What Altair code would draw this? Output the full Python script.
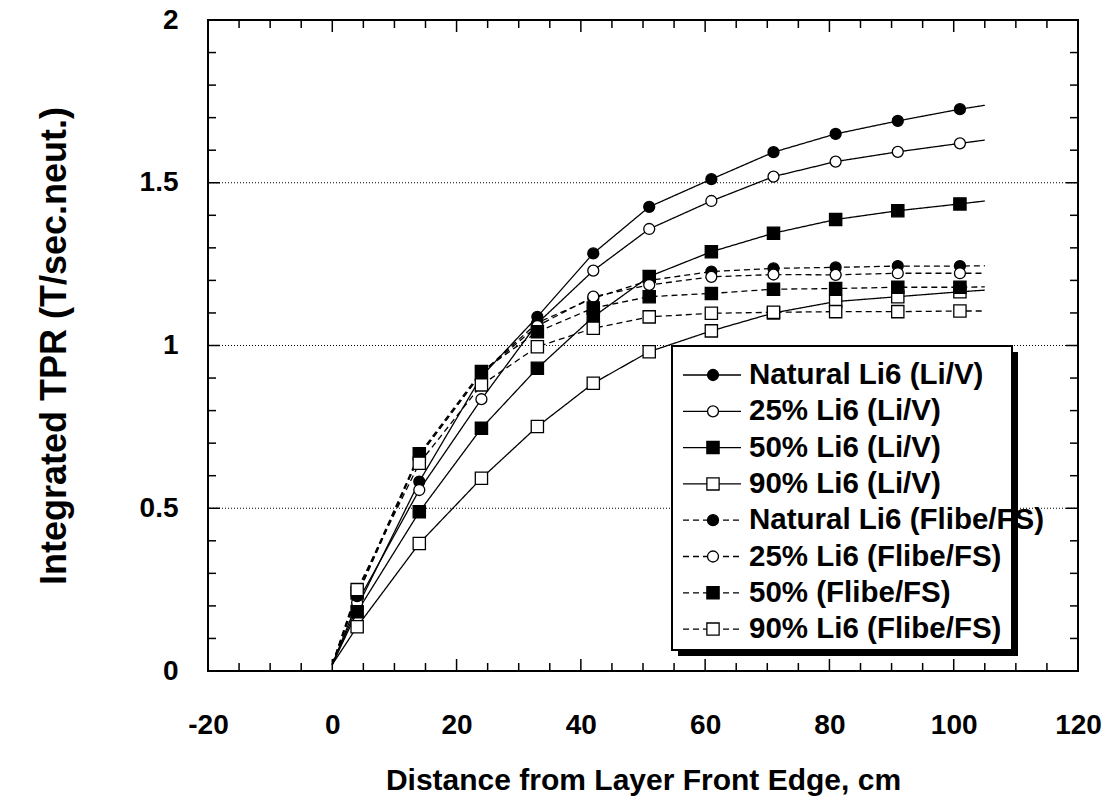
import altair as alt
import pandas as pd

# Distance (cm) of the tallied points; lines run from the front edge to the end of the layer
X_POS = [4, 14, 24, 33, 42, 51, 61, 71, 81, 91, 101]
X_START = 0
X_END = 105

SERIES = [
    "Natural Li6 (Li/V)",
    "25% Li6 (Li/V)",
    "50% Li6 (Li/V)",
    "90% Li6 (Li/V)",
    "Natural Li6 (Flibe/FS)",
    "25% Li6 (Flibe/FS)",
    "50% (Flibe/FS)",
    "90% Li6 (Flibe/FS)",
]

# Integrated TPR (T/sec.neut.) at X_POS
NAT_LIV = [0.195, 0.582, 0.905, 1.088, 1.283, 1.426, 1.511, 1.594, 1.650, 1.690, 1.726]
P25_LIV = [0.210, 0.556, 0.835, 1.068, 1.230, 1.358, 1.444, 1.519, 1.565, 1.595, 1.621]
P50_LIV = [0.182, 0.489, 0.746, 0.930, 1.088, 1.212, 1.288, 1.345, 1.387, 1.414, 1.435]
P90_LIV = [0.136, 0.392, 0.592, 0.751, 0.884, 0.981, 1.045, 1.100, 1.135, 1.150, 1.165]
NAT_FLIBE = [0.230, 0.660, 0.915, 1.070, 1.145, 1.200, 1.227, 1.237, 1.240, 1.244, 1.244]
P25_FLIBE = [0.235, 0.662, 0.915, 1.060, 1.150, 1.186, 1.211, 1.218, 1.217, 1.222, 1.222]
P50_FLIBE = [0.240, 0.667, 0.920, 1.042, 1.115, 1.150, 1.160, 1.173, 1.175, 1.179, 1.179]
P90_FLIBE = [0.250, 0.638, 0.879, 0.996, 1.053, 1.088, 1.099, 1.102, 1.104, 1.104, 1.106]

VALUES = [NAT_LIV, P25_LIV, P50_LIV, P90_LIV, NAT_FLIBE, P25_FLIBE, P50_FLIBE, P90_FLIBE]
START_VALUES = [0.02, 0.02, 0.02, 0.02, 0.02, 0.02, 0.02, 0.02]
END_VALUES = [1.738, 1.631, 1.444, 1.170, 1.245, 1.222, 1.180, 1.106]

STYLE = ["solid"] * 4 + ["dashed"] * 4
SHAPE = ["circle", "circle", "square", "square"] * 2
FILL = ["black", "white", "black", "white"] * 2

X_TICKS = [-20, 0, 20, 40, 60, 80, 100, 120]
Y_TICKS = [0, 0.5, 1, 1.5, 2]
GRID_Y = [0.5, 1, 1.5]

X_TITLE = "Distance from Layer Front Edge, cm"
Y_TITLE = "Integrated TPR (T/sec.neut.)"

W, H = 870, 651
X_DOM = [-20, 120]
Y_DOM = [0, 2]
FONT = "Liberation Sans"


def to_x(px):
    return X_DOM[0] + px / W * (X_DOM[1] - X_DOM[0])


def to_y(py):
    return Y_DOM[1] - py / H * (Y_DOM[1] - Y_DOM[0])


# ---- tables ---------------------------------------------------------------
line_rows, mark_rows = [], []
for i, name in enumerate(SERIES):
    line_rows.append({"series": name, "x": X_START, "y": START_VALUES[i], "style": STYLE[i], "ord": 0})
    for j, (xv, yv) in enumerate(zip(X_POS, VALUES[i])):
        line_rows.append({"series": name, "x": xv, "y": yv, "style": STYLE[i], "ord": j + 1})
        mark_rows.append({"series": name, "x": xv, "y": yv, "shape": SHAPE[i], "fill": FILL[i]})
    line_rows.append({"series": name, "x": X_END, "y": END_VALUES[i], "style": STYLE[i], "ord": 99})
lines_df = pd.DataFrame(line_rows)
marks_df = pd.DataFrame(mark_rows)

xs = alt.Scale(domain=X_DOM, nice=False, zero=False)
ys = alt.Scale(domain=Y_DOM, nice=False, zero=False)
x_axis = alt.Axis(values=X_TICKS, ticks=False, domain=False, grid=False, labelPadding=40,
                  labelExpr="'' + datum.value",
                  labelFontSize=28, labelFont=FONT, labelFontWeight="bold", labelColor="black",
                  titleFontSize=30, titleFont=FONT, titleFontWeight="bold", titleColor="black",
                  titlePadding=26, labelFlush=False, labelOverlap=False)
y_axis = alt.Axis(values=Y_TICKS, ticks=False, domain=False, grid=False, labelPadding=30,
                  labelExpr="'' + datum.value",
                  labelFontSize=28, labelFont=FONT, labelFontWeight="bold", labelColor="black",
                  titleFontSize=36, titleFont=FONT, titleFontWeight="bold", titleColor="black",
                  titlePadding=66, labelFlush=False, labelOverlap=False)


def X(field):
    return alt.X(field, type="quantitative", scale=xs, axis=x_axis, title=X_TITLE)


def Y(field):
    return alt.Y(field, type="quantitative", scale=ys, axis=y_axis, title=Y_TITLE)


DASH = [6, 4]
dash_scale = alt.Scale(domain=["solid", "dashed"], range=[[1, 0], DASH])

grid = alt.Chart(pd.DataFrame({"g": GRID_Y})).mark_rule(
    color="black", strokeWidth=1, strokeDash=[1, 2]
).encode(y=Y("g"))

lines = alt.Chart(lines_df).mark_line(color="black", strokeWidth=1.3).encode(
    x=X("x"), y=Y("y"), detail="series:N", order="ord:Q",
    strokeDash=alt.StrokeDash("style:N", scale=dash_scale, legend=None),
)

shape_scale = alt.Scale(domain=["circle", "square"], range=["circle", "square"])
fill_scale = alt.Scale(domain=["black", "white"], range=["black", "white"])
size_scale = alt.Scale(domain=["circle", "square"], range=[120, 150])
marks = alt.Chart(marks_df).mark_point(filled=True, stroke="black", strokeWidth=1.3, opacity=1).encode(
    x=X("x"), y=Y("y"),
    shape=alt.Shape("shape:N", scale=shape_scale, legend=None),
    fill=alt.Fill("fill:N", scale=fill_scale, legend=None),
    size=alt.Size("shape:N", scale=size_scale, legend=None),
)

# ---- legend box ------------------------------------------------------------
BOX = (464, 326, 804, 630)   # left, top, right, bottom inside the plot area (px)
SHADOW = 6
shadow = alt.Chart(pd.DataFrame({"x": [to_x(BOX[0] + SHADOW)], "x2": [to_x(BOX[2] + SHADOW)],
                                 "y": [to_y(BOX[1] + SHADOW)], "y2": [to_y(BOX[3] + SHADOW)]})).mark_rect(
    color="black").encode(x=X("x"), x2="x2", y=Y("y"), y2="y2")
box = alt.Chart(pd.DataFrame({"x": [to_x(BOX[0])], "x2": [to_x(BOX[2])],
                              "y": [to_y(BOX[1])], "y2": [to_y(BOX[3])]})).mark_rect(
    fill="white", stroke="black", strokeWidth=2).encode(x=X("x"), x2="x2", y=Y("y"), y2="y2")

ROW0, ROW_STEP = 355, 36.3
leg_rows = []
for i, name in enumerate(SERIES):
    py = ROW0 + ROW_STEP * i
    leg_rows.append({"series": name, "y": to_y(py), "x1": to_x(475), "x2": to_x(533),
                     "xm": to_x(505), "xt": to_x(541), "style": STYLE[i],
                     "shape": SHAPE[i], "fill": FILL[i]})
leg_df = pd.DataFrame(leg_rows)
leg_lines = alt.Chart(leg_df).mark_rule(color="black", strokeWidth=1.3).encode(
    x=X("x1"), x2="x2", y=Y("y"),
    strokeDash=alt.StrokeDash("style:N", scale=dash_scale, legend=None),
)
leg_marks = alt.Chart(leg_df).mark_point(filled=True, stroke="black", strokeWidth=1.3, opacity=1).encode(
    x=X("xm"), y=Y("y"),
    shape=alt.Shape("shape:N", scale=shape_scale, legend=None),
    fill=alt.Fill("fill:N", scale=fill_scale, legend=None),
    size=alt.Size("shape:N", scale=alt.Scale(domain=["circle", "square"], range=[100, 120]), legend=None),
)
leg_text = alt.Chart(leg_df).mark_text(
    align="left", baseline="middle", font=FONT, fontWeight="bold", fontSize=29.5, color="black"
).encode(x=X("xt"), y=Y("y"), text="series:N")

# ---- inward ticks on all four sides ------------------------------------------
xt_minor = [v for v in range(-20, 121, 5) if v % 20 != 0]
yt_all = [round(v * 0.1, 1) for v in range(0, 21)]
yt_minor = [v for v in yt_all if abs(v * 2 - round(v * 2)) > 1e-9]
MAJ, MIN = 12, 8


def xticks(vals, length):
    d = pd.DataFrame({"t": vals})
    bottom = alt.Chart(d).mark_rule(color="black", strokeWidth=1.5).encode(
        x=X("t"), y=alt.value(H), y2=alt.value(H - length))
    top = alt.Chart(d).mark_rule(color="black", strokeWidth=1.5).encode(
        x=X("t"), y=alt.value(0), y2=alt.value(length))
    return [bottom, top]


def yticks(vals, length):
    d = pd.DataFrame({"t": vals})
    left = alt.Chart(d).mark_rule(color="black", strokeWidth=1.5).encode(
        y=Y("t"), x=alt.value(0), x2=alt.value(length))
    right = alt.Chart(d).mark_rule(color="black", strokeWidth=1.5).encode(
        y=Y("t"), x=alt.value(W), x2=alt.value(W - length))
    return [left, right]


ticks = (xticks(X_TICKS, MAJ) + xticks(xt_minor, MIN) +
         yticks(Y_TICKS, MAJ) + yticks(yt_minor, MIN))

chart = alt.layer(
    grid, lines, marks, shadow, box, leg_lines, leg_marks, leg_text, *ticks
).properties(
    width=W, height=H,
    autosize=alt.AutoSizeParams(type="none"),
    padding={"left": 208, "top": 20, "right": 31, "bottom": 131},
    background="white",
).configure_view(stroke="black", strokeWidth=2)

chart.save("out.html", embed_options={"renderer": "svg", "actions": False})
